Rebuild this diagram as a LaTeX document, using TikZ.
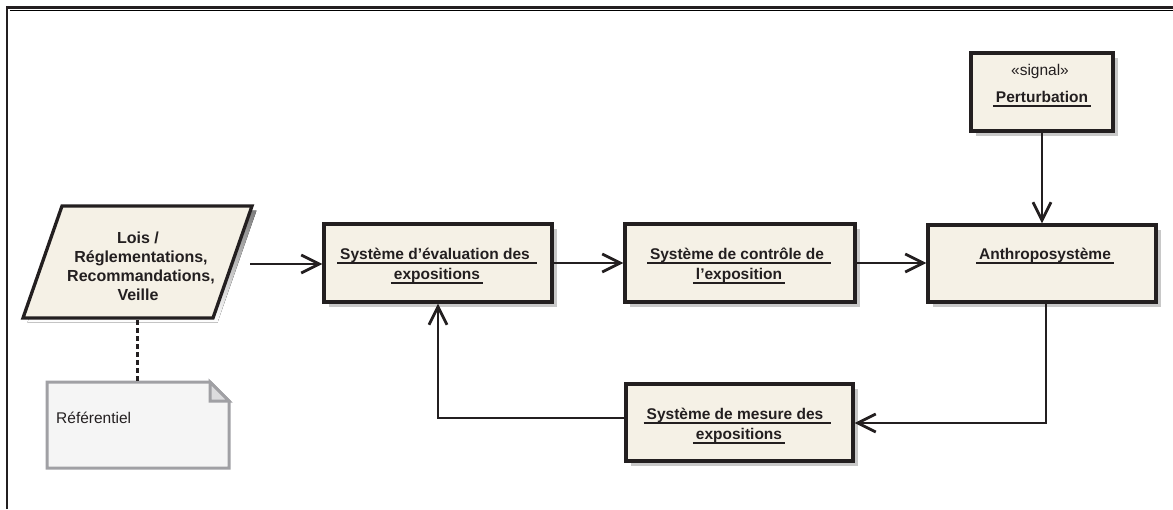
\documentclass[tikz,border=0pt]{standalone}
\usepackage{fontspec}
\setmainfont{Liberation Sans}
\usetikzlibrary{arrows.meta}
\definecolor{boxfill}{RGB}{245,241,230}
\definecolor{ink}{RGB}{35,31,32}
\definecolor{shade}{RGB}{200,200,200}
\definecolor{notefill}{RGB}{245,245,245}
\definecolor{noteline}{RGB}{160,160,164}
\definecolor{foldfill}{RGB}{220,220,222}
\newlength\ulwd
\newcommand\uline[1]{\settowidth\ulwd{#1}\makebox[0pt][l]{\kern-3pt\rule[-5.3pt]{\dimexpr\ulwd+6pt\relax}{2.5pt}}#1}
\tikzset{
  blockbox/.style={draw=ink, line width=3.3pt, fill=boxfill, inner sep=0pt,
    preaction={draw=none, fill=shade, transform canvas={xshift=4.5pt,yshift=-4.5pt}}},
  lbl/.style={anchor=base, inner sep=0pt, font=\fontsize{15.5}{19.5}\selectfont\bfseries, text=ink},
  loilbl/.style={lbl, font=\fontsize{16}{19.5}\selectfont\bfseries},
  plainlbl/.style={anchor=base, inner sep=0pt, font=\fontsize{15.5}{19.5}\selectfont, text=ink},
  flow/.style={draw=ink, line width=2.8pt, -{Straight Barb[length=18pt,width=18pt,line width=2.8pt]}},
}
\begin{document}
\begin{tikzpicture}[x=1pt,y=-1pt]
\useasboundingbox (0,0) rectangle (1173,509);
% frame
\draw[shade, line width=1pt] (9.5,10) -- (1173,10);
\draw[ink, line width=2.5pt] (7,509) -- (7,7.5) -- (1173,7.5);

% parallelogram
\fill[shade, shift={(4.5,4.5)}] (62,206) -- (252,206) -- (213,318) -- (23,318) -- cycle;
\draw[ink, line width=3.3pt, fill=boxfill, line join=miter] (62,206) -- (252,206) -- (213,318) -- (23,318) -- cycle;
\node[loilbl] (loi1) at (138,243) {Lois /};
\node[loilbl] (loi2) at (141,262) {Réglementations,};
\node[loilbl] (loi3) at (141,281) {Recommandations,};
\node[loilbl] (loi4) at (138,300) {Veille};
\coordinate (loibot) at (137,320);
\coordinate (loiout) at (250,264);

% note
\draw[noteline, line width=3pt, fill=notefill, line join=miter] (47,382) -- (210,382) -- (229,401) -- (229,468) -- (47,468) -- cycle;
\draw[noteline, line width=3pt, fill=foldfill, line join=miter] (210,382) -- (229,401) -- (210,401) -- cycle;
\coordinate (notetop) at (137,381);
\node[plainlbl, anchor=base west] (ref) at (56,423) {Référentiel};
\draw[ink, line width=3pt, dash pattern=on 5pt off 3pt] (loibot) -- (notetop);

% boxes
\node[blockbox, minimum width=228pt, minimum height=78pt] (eval) at (438,263) {};
\node[blockbox, minimum width=230pt, minimum height=78pt] (ctrl) at (740,263) {};
\node[blockbox, minimum width=228pt, minimum height=77pt] (anthro) at (1042,263.5) {};
\node[blockbox, minimum width=142pt, minimum height=78pt] (pert) at (1042,92) {};
\node[blockbox, minimum width=227pt, minimum height=77pt] (mesure) at (739.5,422.5) {};

\node[lbl] (eval1) at (435,259) {\uline{Système d’évaluation des }};
\node[lbl] (eval2) at (437,279) {\uline{expositions}};
\node[lbl] (ctrl1) at (737,259) {\uline{Système de contrôle de }};
\node[lbl] (ctrl2) at (739,279) {\uline{l’exposition}};
\node[lbl] (anthro1) at (1045,259) {\uline{Anthroposystème}};
\node[plainlbl] (pert0) at (1040,75) {«signal»};
\node[lbl] (pert1) at (1042,102) {\uline{Perturbation}};
\node[lbl] (mes1) at (735,419) {\uline{Système de mesure des }};
\node[lbl] (mes2) at (739,439) {\uline{expositions}};

% connectors
\draw[flow] (loiout) -- (loiout -| eval.west);
\draw[flow] (eval.east) -- (ctrl.west);
\draw[flow] (ctrl.east) -- (anthro.west |- ctrl.east);
\draw[flow] (pert.south) -- (anthro.north);
\coordinate (fbR) at (1046,423);
\draw[flow] (anthro.south -| fbR) |- (mesure.east |- fbR);
\coordinate (fbL) at (438,418);
\draw[flow] (mesure.west |- fbL) -| (eval.south);
\end{tikzpicture}
\end{document}
